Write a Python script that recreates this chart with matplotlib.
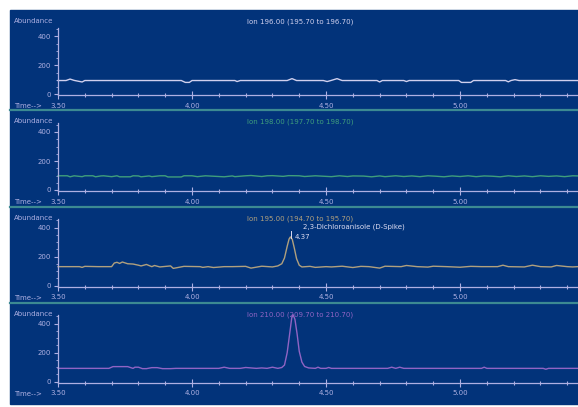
import matplotlib
matplotlib.use("Agg")
import matplotlib.pyplot as plt
from matplotlib.patches import Rectangle
from matplotlib.lines import Line2D
from matplotlib.ticker import MultipleLocator

# イオンクロマトグラムの値 (時間 [min], 強度)
ion1_t = [3.50, 3.53, 3.545, 3.56, 3.59, 3.60, 3.96, 3.975, 3.99, 4.00, 4.16, 4.168, 4.18,
          4.355, 4.373, 4.39, 4.49, 4.504, 4.52, 4.541, 4.56, 4.69, 4.70, 4.71, 4.79, 4.80,
          4.81, 4.995, 5.005, 5.04, 5.05, 5.17, 5.18, 5.19, 5.205, 5.22, 5.44]
ion1_y = [95, 95, 105, 96, 85, 95, 95, 82, 82, 95, 95, 88, 95,
          95, 108, 95, 95, 88, 96, 108, 95, 95, 85, 95, 95, 88,
          95, 95, 82, 82, 95, 95, 86, 95, 101, 95, 95]

ion2_t = [3.50, 3.535, 3.545, 3.56, 3.59, 3.60, 3.63, 3.64, 3.66, 3.67,
          3.70, 3.72, 3.73, 3.77, 3.78, 3.80, 3.81, 3.84, 3.85, 3.88,
          3.90, 3.91, 3.96, 3.97, 4.00, 4.02, 4.05, 4.06, 4.12, 4.15,
          4.16, 4.20, 4.22, 4.26, 4.28, 4.30, 4.34, 4.36, 4.40, 4.42,
          4.46, 4.48, 4.52, 4.55, 4.58, 4.60, 4.64, 4.67, 4.70, 4.72,
          4.76, 4.79, 4.82, 4.85, 4.88, 4.91, 4.94, 4.97, 5.00, 5.03,
          5.06, 5.09, 5.12, 5.15, 5.18, 5.21, 5.24, 5.27, 5.30, 5.33,
          5.36, 5.39, 5.42, 5.44]
ion2_y = [98, 98, 91, 98, 92, 98, 98, 91, 97, 98,
          92, 98, 91, 91, 98, 97, 91, 97, 92, 98,
          98, 90, 90, 98, 98, 92, 98, 97, 91, 97,
          92, 98, 100, 93, 98, 99, 94, 99, 98, 93,
          98, 96, 92, 98, 93, 97, 96, 91, 97, 92,
          98, 93, 97, 92, 98, 95, 91, 97, 93, 98,
          92, 97, 95, 91, 98, 93, 97, 92, 98, 94,
          97, 92, 98, 97]

ion3_t = [3.50, 3.58, 3.59, 3.60, 3.65, 3.70, 3.71, 3.72, 3.73, 3.74,
          3.76, 3.78, 3.80, 3.81, 3.83, 3.85, 3.86, 3.88, 3.92, 3.93,
          3.97, 4.03, 4.04, 4.06, 4.08, 4.12, 4.15, 4.20, 4.22, 4.26,
          4.30, 4.32, 4.335, 4.345, 4.355, 4.362, 4.367, 4.374, 4.382, 4.39,
          4.40, 4.41, 4.44, 4.46, 4.50, 4.52, 4.56, 4.60, 4.63, 4.66,
          4.70, 4.72, 4.78, 4.80, 4.84, 4.88, 4.90, 4.95, 5.00, 5.04,
          5.08, 5.14, 5.16, 5.18, 5.24, 5.27, 5.30, 5.34, 5.36, 5.40,
          5.42, 5.44]
ion3_y = [130, 130, 125, 132, 130, 130, 155, 160, 152, 162,
          150, 148, 140, 135, 145, 130, 138, 128, 135, 118,
          132, 130, 125, 130, 124, 130, 130, 132, 120, 133,
          128, 135, 150, 190, 270, 320, 335, 318, 255, 185,
          140, 128, 132, 125, 130, 128, 133, 124, 132, 130,
          120, 133, 130, 138, 130, 127, 133, 130, 126, 132,
          130, 130, 140, 130, 128, 140, 130, 128, 138, 130,
          128, 130]

ion4_t = [3.50, 3.69, 3.705, 3.76, 3.78, 3.787, 3.80, 3.815, 3.83, 3.85,
          3.87, 3.89, 3.92, 3.94, 4.10, 4.12, 4.14, 4.18, 4.20, 4.24,
          4.26, 4.28, 4.30, 4.32, 4.335, 4.345, 4.355, 4.365, 4.372, 4.377,
          4.384, 4.392, 4.40, 4.41, 4.42, 4.435, 4.46, 4.47, 4.48, 4.50,
          4.51, 4.52, 4.73, 4.745, 4.76, 4.775, 4.79, 5.08, 5.09, 5.10,
          5.31, 5.32, 5.33, 5.44]
ion4_y = [92, 92, 104, 104, 92, 100, 100, 90, 90, 97,
          97, 90, 90, 92, 92, 100, 92, 92, 98, 92,
          95, 92, 100, 92, 98, 115, 200, 340, 440, 462,
          430, 330, 210, 135, 105, 95, 92, 100, 92, 92,
          98, 92, 92, 100, 92, 100, 92, 92, 100, 92,
          92, 86, 92, 92]

titles = ["Ion 196.00 (195.70 to 196.70)", "Ion 198.00 (197.70 to 198.70)",
          "Ion 195.00 (194.70 to 195.70)", "Ion 210.00 (209.70 to 210.70)"]
x_ticks = [3.50, 4.00, 4.50, 5.00]
y_ticks = [0, 200, 400]
peak_name = "2,3-Dichloroanisole (D-Spike)"
peak_rt = "4.37"

W, H = 578, 407
BG = "#02337a"
AXC = "#aeb0e2"
SEP = "#3c8a92"
colors = ["#d0d0ee", "#3f9e7c", "#b0a07e", "#9064c4"]
traces = [(ion1_t, ion1_y), (ion2_t, ion2_y), (ion3_t, ion3_y), (ion4_t, ion4_y)]

# 各パネルのゼロ線の位置 (ピクセル)
zero_px = [94.3, 190.0, 285.5, 381.7]
px_per_unit = 0.145
ymin, ymax = -8, 460

fig = plt.figure(figsize=(W / 100, H / 100), dpi=100)
fig.patch.set_facecolor("white")
fig.patches.append(Rectangle((10 / W, 1 - 404 / H), 568 / W, 394 / H,
                             transform=fig.transFigure, color=BG, zorder=-5))

for yp in [110, 207, 303]:
    fig.lines.append(Line2D([10 / W, 1], [1 - yp / H] * 2, transform=fig.transFigure,
                            color=SEP, lw=1.6, zorder=1))


def ftext(x, y, s, **kw):
    fig.text(x / W, 1 - y / H, s, fontsize=5, **kw)


for i, (t, y) in enumerate(traces):
    z = zero_px[i]
    bot = z - ymin * px_per_unit
    top = z - ymax * px_per_unit
    ax = fig.add_axes([58 / W, 1 - bot / H, 520 / W, (bot - top) / H])
    ax.set_facecolor("none")
    ax.plot(t, y, color=colors[i], lw=1.0, clip_on=False)
    ax.set_xlim(3.5, 5.44)
    ax.set_ylim(ymin, ymax)
    for s in ["top", "right"]:
        ax.spines[s].set_visible(False)
    for s in ["left", "bottom"]:
        ax.spines[s].set_color(AXC)
        ax.spines[s].set_linewidth(0.9)
    ax.set_xticks(x_ticks)
    ax.set_xticklabels([f"{v:.2f}" for v in x_ticks])
    ax.xaxis.set_minor_locator(MultipleLocator(0.1))
    ax.set_yticks(y_ticks)
    ax.yaxis.set_minor_locator(MultipleLocator(50))
    ax.tick_params(axis="x", which="major", direction="inout", length=6, width=0.8,
                   colors=AXC, labelsize=5, pad=2.5)
    ax.tick_params(axis="x", which="minor", direction="inout", length=3, width=0.8, colors=AXC)
    ax.tick_params(axis="y", which="major", direction="out", length=3, width=0.8,
                   colors=AXC, labelsize=5, pad=2)
    ax.tick_params(axis="y", which="minor", direction="out", length=1.5, width=0.6, colors=AXC)

    ptop = [10, 110, 207, 303][i]
    ftext(14, ptop + 11, "Abundance", color=AXC, va="center", ha="left")
    ftext(300, ptop + 12, titles[i], color=colors[i], va="center", ha="center")
    ftext(14, z + 12, "Time-->", color=AXC, va="center", ha="left")

# ピーク注釈 (3段目)
ftext(303, 227, peak_name, color="#dcdcf2", va="center", ha="left")
ftext(295, 237, peak_rt, color="#dcdcf2", va="center", ha="left")
fig.lines.append(Line2D([291 / W] * 2, [1 - 231 / H, 1 - 238 / H], transform=fig.transFigure,
                        color="#dcdcf2", lw=0.7))

fig.savefig("out.png", dpi=100)
